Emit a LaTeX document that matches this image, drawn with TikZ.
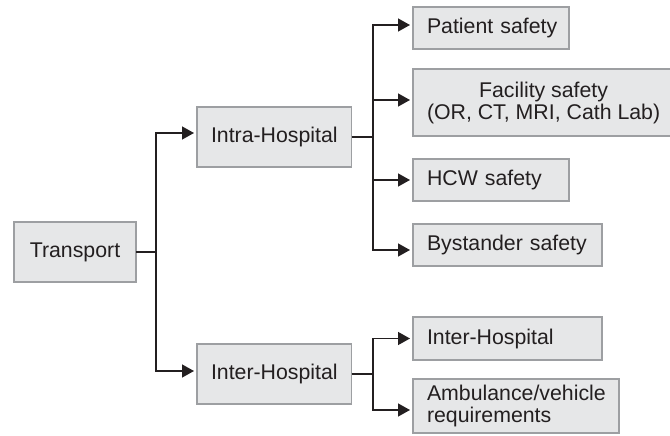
\documentclass[tikz,border=0pt]{standalone}
\usepackage{fontspec}
\setmainfont{Liberation Sans}
\usetikzlibrary{arrows.meta}
\definecolor{boxfill}{HTML}{E6E7E8}
\definecolor{boxline}{HTML}{9D9FA2}
\definecolor{ink}{HTML}{231F20}
\begin{document}
\begin{tikzpicture}[x=1pt,y=-1pt,
  box/.style={draw=boxline, fill=boxfill, line width=1.3pt, anchor=north west,
    inner xsep=14pt, inner ysep=0pt, outer sep=0pt, text=ink,
    font=\fontsize{21.3}{22}\selectfont},
  cbox/.style={box, align=center},
  lbox/.style={box, align=left},
  conn/.style={draw=ink, line width=1.4pt},
  arr/.style={conn, -{Triangle[length=12pt,width=13pt]}, shorten >=3pt}]
\useasboundingbox (0,0) rectangle (670,436);
% boxes
\node[cbox, minimum width=122pt, minimum height=60pt] (tr) at (14,222) {Transport};
\node[cbox, minimum width=152pt, minimum height=60pt] (intra) at (197,107) {Intra-Hospital};
\node[cbox, minimum width=152pt, minimum height=60pt] (inter) at (197,344) {Inter-Hospital};
\node[lbox, text width=128pt, minimum height=42pt] (pat) at (413,7) {\mbox{Patient safety}};
\node[cbox, minimum width=254pt, minimum height=67pt] (fac) at (413,69) {Facility safety\\(OR, CT, MRI, Cath Lab)};
\node[lbox, text width=128pt, minimum height=42pt] (hcw) at (413,159) {\mbox{HCW safety}};
\node[lbox, text width=161pt, minimum height=42pt] (bys) at (413,224) {\mbox{Bystander safety}};
\node[lbox, text width=161pt, minimum height=43pt] (ih) at (413,317) {\mbox{Inter-Hospital}};
\node[lbox, text width=178pt, minimum height=54pt] (amb) at (413,379) {\mbox{Ambulance/vehicle}\\\mbox{requirements}};
% junctions
\coordinate (j0) at (156,252);
\coordinate (j1) at (373,137);
\coordinate (j2) at (373,374);
% connectors
\draw[conn] (tr.east) -- (j0);
\draw[arr] (j0) |- ([yshift=4pt]intra.west);
\draw[arr] (j0) |- ([yshift=3pt]inter.west);
\draw[conn] (intra.east) -- (j1);
\draw[arr] (j1) |- ([yshift=3pt]pat.west);
\draw[arr] (j1) |- ([yshift=2.5pt]fac.west);
\draw[arr] (j1) |- (hcw.west);
\draw[arr] (j1) |- ([yshift=-5pt]bys.west);
\draw[conn] (inter.east) -- (j2);
\draw[arr] (j2) |- (ih.west);
\draw[arr] (j2) |- ([yshift=-4pt]amb.west);
\end{tikzpicture}
\end{document}
